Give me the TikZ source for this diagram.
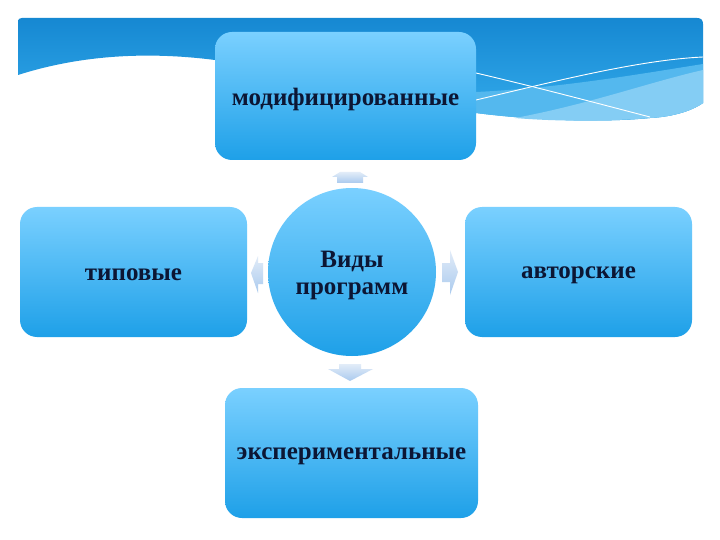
\documentclass[tikz,border=0pt]{standalone}
\usepackage{fontspec}
\setmainfont{Liberation Serif}
\begin{document}
\begin{tikzpicture}[x=1pt,y=-1pt,
  boxstyle/.style={rounded corners=17pt, top color=boxtop, bottom color=boxbot,
    draw=none, inner sep=0pt},
  lbl/.style={font=\bfseries\fontsize{25}{27}\selectfont, text=txt, align=center, inner sep=0pt},
  arrowfill/.style={top color=arrtop, bottom color=arrbot, draw=none},
  wline/.style={white, line width=0.9pt}]
\definecolor{boxtop}{RGB}{122,208,255}
\definecolor{boxbot}{RGB}{30,160,232}
\definecolor{txt}{RGB}{12,22,52}
\definecolor{bandtop}{RGB}{22,136,210}
\definecolor{bandbot}{RGB}{52,172,236}
\definecolor{layA}{RGB}{84,184,238}
\definecolor{layB}{RGB}{132,205,244}
\definecolor{arrtop}{RGB}{226,236,248}
\definecolor{arrbot}{RGB}{170,202,238}
\useasboundingbox[fill=white] (0,0) rectangle (720,540);
% header band
\path[top color=bandtop, bottom color=bandbot]
  (18,75) -- (18,22) .. controls (18,19) and (19,18) .. (22,18) -- (697,18)
  .. controls (701,18) and (703,20) .. (703,24) -- (703,103)
  .. controls (690,112) and (670,117) .. (650,118)
  .. controls (600,123) and (530,120) .. (476,113) -- (215,60)
  .. controls (160,53) and (90,52) .. (18,75) -- cycle;
\path[fill=layA]
  (476,92) .. controls (560,88) and (640,74) .. (703,64) -- (703,103)
  .. controls (690,112) and (670,117) .. (650,118)
  .. controls (600,123) and (530,120) .. (476,113) -- cycle;
\path[fill=layB]
  (515,118) .. controls (590,104) and (650,82) .. (703,70) -- (703,103)
  .. controls (690,112) and (670,117) .. (650,118)
  .. controls (600,122) and (550,121) .. (515,118) -- cycle;
\draw[wline] (476,73) .. controls (540,88) and (600,104) .. (650,117);
\draw[wline] (476,100) .. controls (560,80) and (640,60) .. (703,57);
% nodes
\node[boxstyle, minimum width=261pt, minimum height=128pt] (mod) at (345.5,96) {};
\node[boxstyle, minimum width=227pt, minimum height=130pt] (tip) at (133.5,272) {};
\node[boxstyle, minimum width=227pt, minimum height=130pt] (avt) at (578.5,272) {};
\node[boxstyle, minimum width=253pt, minimum height=130pt] (exp) at (351.5,453) {};
\node[circle, top color=boxtop, bottom color=boxbot, minimum size=168pt, inner sep=0pt] (vid) at (352,272) {};
\node[lbl] (modt) at ([yshift=-3pt]mod.center) {модифицированные};
\node[lbl] (tipt) at ([yshift=-3pt]tip.center) {типовые};
\node[lbl] (avtt) at ([yshift=-3pt]avt.center) {авторские};
\node[lbl] (expt) at ([yshift=-3pt]exp.center) {экспериментальные};
\node[lbl] (vidt) at ([yshift=-3pt]vid.center) {Виды\\программ};
% arrows
\path[arrowfill] (337,183) -- (337,177) -- (332,177) -- (340,172) -- (360,172) -- (368,177) -- (363,177) -- (363,183) -- cycle;
\path[arrowfill] (339,364) -- (361,364) -- (361,369) -- (373,369) -- (350,381) -- (328,369) -- (339,369) -- cycle;
\path[arrowfill] (263,263) -- (258,263) -- (258,256) -- (251,273) -- (258,293) -- (258,284) -- (263,284) -- cycle;
\path[arrowfill] (442,263) -- (450,263) -- (450,250) -- (458,272) -- (450,295) -- (450,282) -- (442,282) -- cycle;
\end{tikzpicture}
\end{document}
